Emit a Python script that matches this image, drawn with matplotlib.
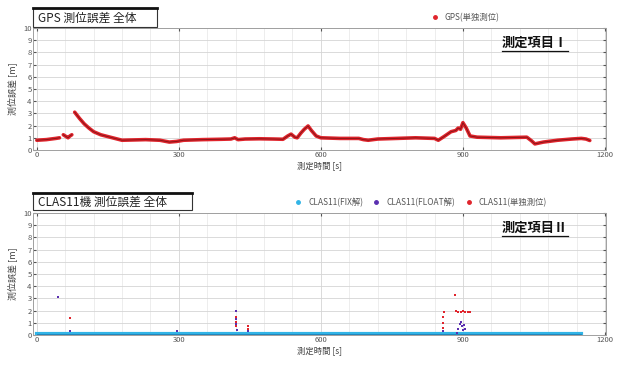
import numpy as np
import matplotlib
matplotlib.use('Agg')
import matplotlib.pyplot as plt
from matplotlib.ticker import MultipleLocator
from matplotlib.patches import Rectangle
from matplotlib.lines import Line2D

plt.rcParams['font.family'] = ['Noto Sans CJK JP', 'DejaVu Sans']

# GPS single positioning error [m] vs. time [s]  (nan = no fix)
gps_t = [0, 20, 40, 48, np.nan, 56, 62, 66, 70, 74, np.nan,
         80, 90, 100, 110, 120, 135, 150, 165, 180, 200, 230, 260, 280, 295,
         310, 350, 390, 410, 418, 425, 440, 470, 500, 520, 530, 537, 545, 550,
         558, 565, 573, 580, 590, 600, 640, 680, 690, 700, 720, 760, 800, 840,
         848, 860, 875, 885, 890, 895, 900, 907, 915, 930, 980, 1035, 1045,
         1052, 1070, 1100, 1130, 1150, 1160, 1168]
gps_v = [0.8, 0.85, 0.95, 1.0, np.nan, 1.25, 1.1, 1.0, 1.15, 1.25, np.nan,
         3.1, 2.6, 2.15, 1.8, 1.5, 1.25, 1.1, 0.95, 0.8, 0.82, 0.85, 0.8, 0.65, 0.7,
         0.8, 0.85, 0.88, 0.9, 1.0, 0.85, 0.9, 0.92, 0.9, 0.88, 1.15, 1.3, 1.05, 1.0,
         1.4, 1.7, 1.97, 1.6, 1.15, 1.0, 0.95, 0.95, 0.85, 0.8, 0.9, 0.95, 1.0, 0.95,
         0.8, 1.1, 1.5, 1.6, 1.8, 1.7, 2.24, 1.8, 1.15, 1.05, 1.0, 1.05, 0.75,
         0.5, 0.65, 0.8, 0.9, 0.95, 0.9, 0.78]

# CLAS11 receiver: FIX / FLOAT / single positioning error
fix_t = [0, 100, 200, 300, 400, 500, 600, 700, 800, 900, 1000, 1100, 1150]
fix_v = [0.1, 0.1, 0.1, 0.1, 0.1, 0.1, 0.1, 0.1, 0.1, 0.1, 0.1, 0.1, 0.1]
float_t = [45, 70, 296, 420, 420, 421, 422, 446, 858, 887, 890, 893, 895, 898, 900, 903, 905]
float_v = [3.1, 0.3, 0.3, 2.0, 1.3, 0.9, 0.4, 0.3, 0.3, 0.2, 0.5, 0.9, 1.1, 0.7, 0.4, 0.8, 0.5]
single_t = [70, 420, 420, 421, 446, 446, 858, 858, 859, 860, 883, 885, 890, 895, 900, 905, 910, 915]
single_v = [1.4, 1.5, 1.1, 0.7, 0.7, 0.5, 0.6, 1.0, 1.5, 1.9, 3.3, 1.95, 1.9, 1.9, 1.95, 1.9, 1.9, 1.85]

xticks = [0, 300, 600, 900, 1200]

fig = plt.figure(figsize=(6.17, 3.69), dpi=100)
ax1 = fig.add_axes([0.0535, 0.5935, 0.9285, 0.3306])
ax2 = fig.add_axes([0.0535, 0.0921, 0.9285, 0.3306])


def style_axes(ax):
    ax.set_xlim(-8, 1202)
    ax.set_ylim(0, 10)
    ax.set_xticks(xticks)
    ax.set_yticks(range(0, 11))
    ax.xaxis.set_minor_locator(MultipleLocator(60))
    ax.grid(True, which='major', color='#d5d5d5', lw=0.6)
    ax.grid(True, which='minor', axis='x', color='#e6e6e6', lw=0.5)
    ax.tick_params(labelsize=5.5, colors='#555555', length=2, pad=1,
                   direction='in', top=True, right=True)
    ax.tick_params(which='minor', length=0)
    ax.tick_params(axis='y', labelright=False)
    for s in ax.spines.values():
        s.set_color('#a0a0a0')
        s.set_linewidth(0.7)
    ax.set_xlabel('測定時間 [s]', fontsize=6, color='#444444', labelpad=1)
    ax.set_ylabel('測位誤差 [m]', fontsize=6.5, color='#444444', labelpad=4)
    ax.set_axisbelow(True)


style_axes(ax1)
style_axes(ax2)

# top: GPS
ax1.plot(gps_t, gps_v, color='#e0242c', lw=2.6, solid_capstyle='round')
ax1.plot(gps_t, gps_v, color='#8a1518', lw=0.7)
ax1.plot([], [], ls='none', marker='o', ms=2.5, color='#e0242c', label='GPS(単独測位)')
ax1.legend(loc='lower right', bbox_to_anchor=(0.825, 1.0), frameon=False,
           fontsize=6, handletextpad=0.2, borderpad=0.2, labelcolor='#555555')

# bottom: CLAS11
ax2.plot(fix_t, fix_v, color='#31b4e6', lw=3.0)
ax2.plot(fix_t, fix_v, color='#1d7fb5', lw=0.6)
ax2.scatter(float_t, float_v, s=4, color='#5a2fb0', marker='s', lw=0, zorder=3)
ax2.scatter(single_t, single_v, s=4, color='#e0242c', marker='s', lw=0, zorder=3)
ax2.plot([], [], ls='none', marker='o', ms=2.5, color='#31b4e6', label='CLAS11(FIX解)')
ax2.plot([], [], ls='none', marker='o', ms=2.5, color='#5a2fb0', label='CLAS11(FLOAT解)')
ax2.plot([], [], ls='none', marker='o', ms=2.5, color='#e0242c', label='CLAS11(単独測位)')
ax2.legend(loc='lower right', bbox_to_anchor=(0.907, 1.0), frameon=False, ncol=3,
           fontsize=6, handletextpad=0.2, columnspacing=0.6, borderpad=0.2,
           labelcolor='#555555')

# boxed panel titles
for (x0, y0, w, h), title in [((0.0535, 0.9268, 0.201, 0.0515), 'GPS 測位誤差 全体'),
                              ((0.0535, 0.4309, 0.2577, 0.046), 'CLAS11機 測位誤差 全体')]:
    fig.add_artist(Rectangle((x0, y0), w, h, transform=fig.transFigure,
                             facecolor='white', edgecolor='#333333', lw=0.8))
    fig.add_artist(Line2D([x0, x0 + w], [y0 + h, y0 + h], transform=fig.transFigure,
                          color='#111111', lw=2.0))
    fig.text(x0 + 0.008, y0 + h / 2 - 0.002, title, fontsize=8.5, va='center',
             ha='left', color='#222222')

# underlined item labels
labels = []
for ax, s in [(ax1, '測定項目Ⅰ'), (ax2, '測定項目Ⅱ')]:
    t = ax.text(0.876, 0.877, s, transform=ax.transAxes, fontsize=9.5,
                fontweight='bold', ha='center', va='center', color='#111111')
    labels.append((ax, t))
fig.canvas.draw()
inv = fig.transFigure.inverted()
for ax, t in labels:
    bb = t.get_window_extent()
    (x0, y0), (x1, _) = inv.transform([[bb.x0, bb.y0], [bb.x1, bb.y1]])
    fig.add_artist(Line2D([x0, x1], [y0 - 0.002, y0 - 0.002],
                          transform=fig.transFigure, color='#111111', lw=0.9))

fig.savefig('out.png', dpi=100, facecolor='white')
